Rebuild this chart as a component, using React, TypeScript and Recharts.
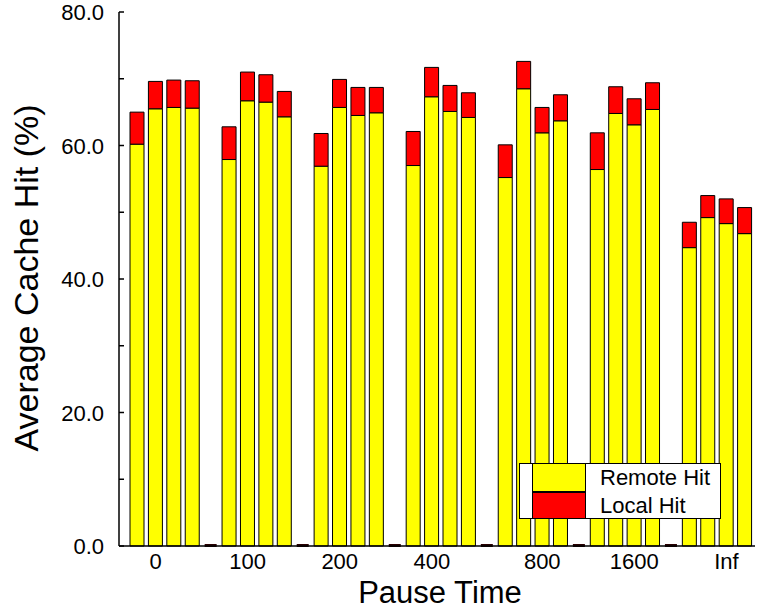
import React from 'react';
import { BarChart, Bar, XAxis, YAxis, Legend, Rectangle } from 'recharts';

const groups = ['0', '100', '200', '400', '800', '1600', 'Inf'];
// which bar of each group carries the category label
const labelBar = [1, 1, 1, 1, 2, 2, 2];

const remoteHit = [
  [60.2, 65.5, 65.7, 65.6],
  [57.9, 66.7, 66.5, 64.3],
  [56.9, 65.7, 64.5, 64.9],
  [57.0, 67.3, 65.1, 64.2],
  [55.2, 68.5, 61.9, 63.7],
  [56.4, 64.8, 63.1, 65.4],
  [44.7, 49.2, 48.3, 46.8],
];

const localHit = [
  [4.8, 4.1, 4.1, 4.1],
  [4.9, 4.3, 4.1, 3.8],
  [4.9, 4.2, 4.2, 3.8],
  [5.1, 4.4, 3.9, 3.7],
  [4.9, 4.1, 3.8, 3.9],
  [5.5, 4.0, 3.9, 4.0],
  [3.8, 3.3, 3.7, 3.9],
];

const yTicks = [0, 10, 20, 30, 40, 50, 60, 70, 80];
const rightTicks = [0, 20, 40, 60, 80];

type Row = { slot: string; label: string; remote: number; local: number; gap: boolean };

const data: Row[] = [];
groups.forEach((g, gi) => {
  remoteHit[gi].forEach((r, bi) => {
    data.push({ slot: `${g}-${bi}`, label: bi === labelBar[gi] ? g : '', remote: r, local: localHit[gi][bi], gap: false });
  });
  if (gi < groups.length - 1) {
    data.push({ slot: `gap-${gi}`, label: '', remote: 0, local: 0, gap: true });
  }
});
const labelOf: Record<string, string> = {};
data.forEach((d) => { labelOf[d.slot] = d.label; });

const FONT = '"Liberation Sans", Arial, sans-serif';

const BottomTick = (props: any) => {
  const { x, y, payload } = props;
  const label = labelOf[payload.value];
  if (!label) return null;
  return (
    <text x={x} y={y + 23} textAnchor="middle" fontSize={22} fill="#000" fontFamily={FONT}>
      {label}
    </text>
  );
};

const TopTick = (props: any) => {
  const { x, y, payload } = props;
  if (!labelOf[payload.value]) return null;
  return <line x1={x} x2={x} y1={y} y2={y + 6} stroke="#000" strokeWidth={1.5} />;
};

const LeftTick = (props: any) => {
  const { x, y, payload } = props;
  const v = payload.value as number;
  return (
    <g>
      <line x1={x} x2={x + 5} y1={y} y2={y} stroke="#000" strokeWidth={1.5} />
      {v % 20 === 0 && (
        <text x={x - 15} y={y + 8} textAnchor="end" fontSize={22} fill="#000" fontFamily={FONT}>
          {v.toFixed(1)}
        </text>
      )}
    </g>
  );
};

const RightTick = (props: any) => {
  const { x, y, payload } = props;
  if (payload.value === 0 || payload.value === 80) return null;
  return <line x1={x} x2={x - 5} y1={y} y2={y} stroke="#000" strokeWidth={1.5} />;
};

const LocalShape = (props: any) => {
  const { x, y, width, payload } = props;
  if (payload && payload.gap) {
    return <rect x={x + 1} y={y - 2} width={width - 2} height={3} fill="#2a0000" />;
  }
  return <Rectangle {...props} />;
};

const LegendBox = () => (
  <div
    style={{
      position: 'relative',
      width: 202,
      height: 56,
      boxSizing: 'border-box',
      border: '1px solid #000',
      background: '#fff',
      fontFamily: FONT,
      fontSize: 22,
      color: '#000',
    }}
  >
    <div style={{ position: 'absolute', left: 12, top: -1, width: 54, height: 29, boxSizing: 'border-box', border: '1px solid #000', background: '#ffff00' }} />
    <div style={{ position: 'absolute', left: 12, top: 28, width: 54, height: 27, boxSizing: 'border-box', border: '1px solid #000', background: '#ff0000' }} />
    <div style={{ position: 'absolute', left: 80, top: 1, lineHeight: '26px' }}>Remote Hit</div>
    <div style={{ position: 'absolute', left: 80, top: 29, lineHeight: '26px' }}>Local Hit</div>
  </div>
);

export default function App() {
  return (
    <div style={{ position: 'absolute', left: 0, top: 0, width: 757, height: 609, background: '#fff' }}>
      <BarChart
        width={757}
        height={609}
        data={data}
        margin={{ top: 12, right: 2, left: 0, bottom: 0 }}
        barSize={14}
        style={{ fontFamily: FONT }}
      >
        <XAxis
          dataKey="slot"
          interval={0}
          height={63}
          tickLine={false}
          tickSize={0}
          tickMargin={0}
          tick={<BottomTick />}
          axisLine={{ stroke: '#000', strokeWidth: 1.5 }}
          padding={{ left: 9, right: 1 }}
          label={{
            content: () => (
              <text x={440} y={602.5} textAnchor="middle" fontSize={31} fill="#000" fontFamily={FONT}>
                Pause Time
              </text>
            ),
          }}
        />
        <XAxis
          xAxisId="top"
          orientation="top"
          dataKey="slot"
          interval={0}
          height={0}
          tickLine={false}
          tickSize={0}
          tickMargin={0}
          tick={<TopTick />}
          axisLine={{ stroke: '#000', strokeWidth: 1.5 }}
          padding={{ left: 9, right: 1 }}
        />
        <YAxis
          domain={[0, 80]}
          ticks={yTicks}
          interval={0}
          width={119}
          tickLine={false}
          tickSize={0}
          tickMargin={0}
          tick={<LeftTick />}
          axisLine={{ stroke: '#000', strokeWidth: 1.5 }}
          label={{
            content: () => (
              <text
                x={38}
                y={278}
                transform="rotate(-90, 38, 278)"
                textAnchor="middle"
                fontSize={34}
                fill="#000"
                fontFamily={FONT}
              >
                Average Cache Hit (%)
              </text>
            ),
          }}
        />
        <YAxis
          yAxisId="right"
          orientation="right"
          domain={[0, 80]}
          ticks={rightTicks}
          interval={0}
          width={0}
          tickLine={false}
          tickSize={0}
          tickMargin={0}
          tick={<RightTick />}
          axisLine={false}
        />
        <Legend
          verticalAlign="middle"
          align="center"
          wrapperStyle={{ left: 519, top: 463, width: 202, height: 56 }}
          content={() => <LegendBox />}
        />
        <Bar dataKey="remote" stackId="hit" fill="#ffff00" stroke="#000" strokeWidth={1} isAnimationActive={false} />
        <Bar
          dataKey="local"
          stackId="hit"
          fill="#ff0000"
          stroke="#000"
          strokeWidth={1}
          shape={<LocalShape />}
          isAnimationActive={false}
        />
      </BarChart>
    </div>
  );
}
